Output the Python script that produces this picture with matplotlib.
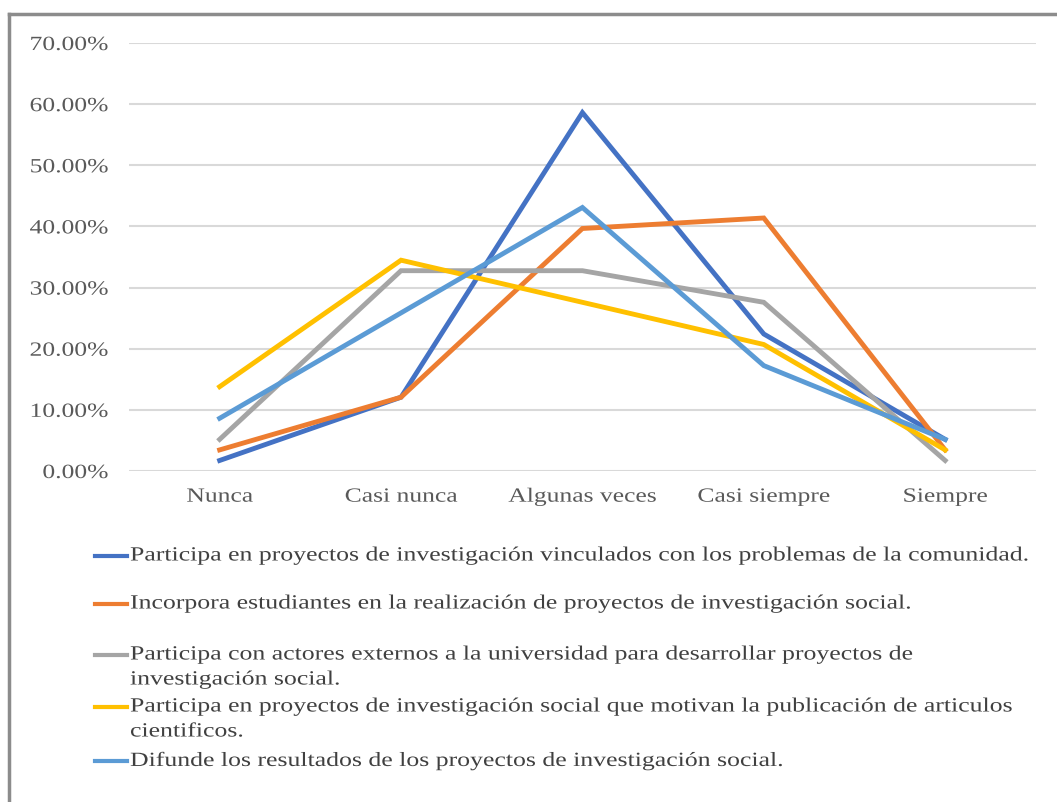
import matplotlib.pyplot as plt
from matplotlib.lines import Line2D
from matplotlib.ticker import PercentFormatter
from matplotlib.patheffects import AbstractPathEffect
from matplotlib.transforms import Affine2D

categories = ['Nunca', 'Casi nunca', 'Algunas veces', 'Casi siempre', 'Siempre']

comunidad = [1.72, 12.07, 58.62, 22.41, 5.17]
estudiantes = [3.45, 12.07, 39.66, 41.38, 3.45]
actores = [5.17, 32.76, 32.76, 27.59, 1.72]
articulos = [13.79, 34.48, 27.59, 20.69, 3.45]
difusion = [8.62, 25.86, 43.10, 17.24, 5.17]

labels = [
    'Participa en proyectos de investigación vinculados con los problemas de la comunidad.',
    'Incorpora estudiantes en la realización de proyectos de investigación social.',
    'Participa con actores externos a la universidad para desarrollar proyectos de\ninvestigación social.',
    'Participa en proyectos de investigación social que motivan la publicación de articulos\ncientificos.',
    'Difunde los resultados de los proyectos de investigación social.',
]
colors = ['#4472C4', '#ED7D31', '#A5A5A5', '#FFC000', '#5B9BD5']
series = [comunidad, estudiantes, actores, articulos, difusion]


class StretchX(AbstractPathEffect):
    """Widen glyphs horizontally around the left, centre or right of the string."""

    def __init__(self, sx, anchor='left'):
        super().__init__()
        self.sx = sx
        self.anchor = anchor

    def draw_path(self, renderer, gc, tpath, affine, rgbFace=None):
        xs = tpath.vertices[:, 0]
        x0 = 0.0
        if len(xs) and self.anchor == 'center':
            x0 = (xs.min() + xs.max()) / 2
        elif len(xs) and self.anchor == 'right':
            x0 = xs.max()
        t = Affine2D().translate(-x0, 0).scale(self.sx, 1).translate(x0, 0) + affine
        renderer.draw_path(gc, tpath, t, rgbFace)


plt.rcParams['font.family'] = ['Liberation Serif', 'DejaVu Serif']

W, H = 1057, 803
fig = plt.figure(figsize=(W / 100, H / 100), dpi=100)
ax = fig.add_axes([0.122, 0.4122, 0.858, 0.533])

x = range(len(categories))
for vals, c in zip(series, colors):
    ax.plot(x, vals, color=c, lw=3.5, solid_joinstyle='miter', zorder=3)

ax.set_xlim(-0.5, 4.5)
ax.set_ylim(0, 70)
ax.set_yticks(range(0, 71, 10))
ax.yaxis.set_major_formatter(PercentFormatter(decimals=2))
ax.set_xticks(list(x))
ax.set_xticklabels(categories)
ax.grid(axis='y', color='#d9d9d9', lw=1.5)
ax.set_axisbelow(True)
for s in ax.spines.values():
    s.set_visible(False)
ax.tick_params(axis='y', length=0, pad=15, labelsize=14.5, labelcolor='#595959')
ax.tick_params(axis='x', length=0, pad=12, labelsize=14.5, labelcolor='#595959')
for t in ax.get_yticklabels():
    t.set_path_effects([StretchX(1.27, 'right')])
for t in ax.get_xticklabels():
    t.set_path_effects([StretchX(1.27, 'center')])

# legend drawn row by row, one handle per series
rows_y = [557, 605, 656, 708, 762]
line_gap = 25
for c, lab, yy in zip(colors, labels, rows_y):
    fy = 1 - yy / H
    fig.add_artist(Line2D([95 / W, 127 / W], [fy, fy], color=c, lw=3,
                          transform=fig.transFigure))
    for i, part in enumerate(lab.split('\n')):
        fig.text(130 / W, 1 - (yy + i * line_gap) / H, part, ha='left', va='center',
                 fontsize=14.5, color='#404040',
                 path_effects=[StretchX(1.28, 'left')])

# outer frame along left and top edges
fig.add_artist(Line2D([9 / W, 9 / W], [0, 1 - 15 / H], color='#8c8c8c', lw=2.5,
                      transform=fig.transFigure))
fig.add_artist(Line2D([9 / W, 1], [1 - 15 / H, 1 - 15 / H], color='#8c8c8c', lw=2.5,
                      transform=fig.transFigure))

fig.savefig('out.png', dpi=100)
